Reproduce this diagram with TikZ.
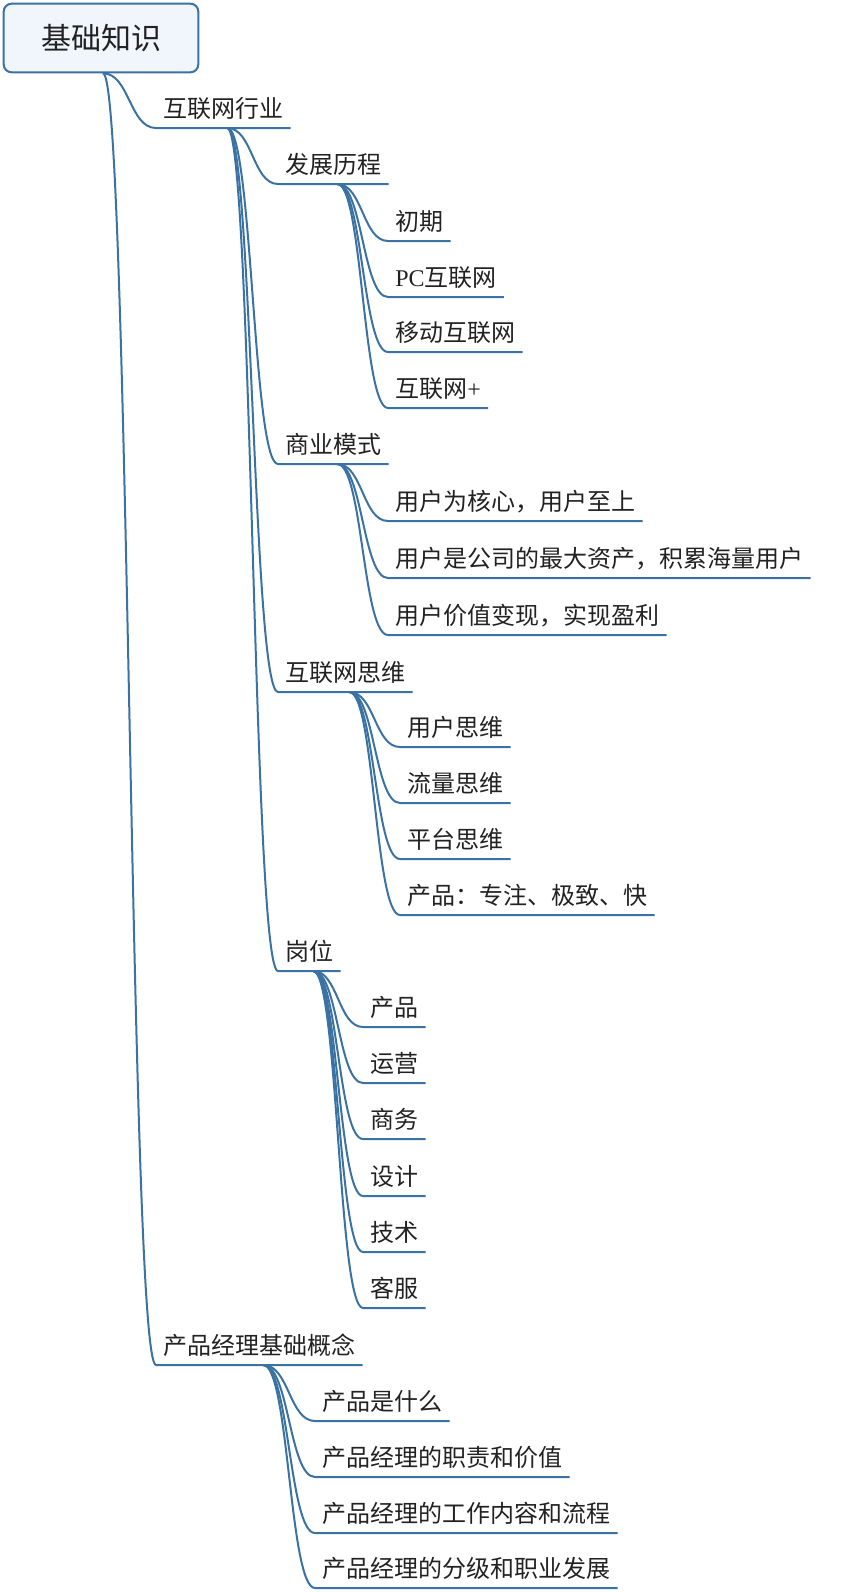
\documentclass[tikz,border=0pt]{standalone}
\usepackage{fontspec}
\setmainfont{Noto Sans CJK SC}
\newfontfamily\latin{Liberation Serif}
\usetikzlibrary{calc}
\definecolor{linec}{HTML}{3A72A4}
\definecolor{rootfill}{HTML}{F1F6FD}
\definecolor{ink}{HTML}{222222}

\begin{document}
\begin{tikzpicture}[x=0.75pt,y=-0.75pt,
  topic/.style={anchor=south west,inner xsep=5.25pt,inner ysep=8pt,text depth=0pt,text=ink,font=\fontsize{18}{20}\selectfont},
  branch/.style={draw=linec,line width=1.5pt,to path={let \p1=(\tikztostart),\p2=(\tikztotarget) in .. controls ({(\x1+\x2)/2},\y1) and ({(\x1+\x2)/2},\y2) .. (\tikztotarget)}}]
\useasboundingbox (0,0) rectangle (850,1592);
\node[draw=linec,line width=1.5pt,fill=rootfill,rounded corners=6pt,minimum width=146pt,minimum height=51.5pt,text=ink,font=\fontsize{22.5}{24}\selectfont] (root) at (101,38) {基础知识};

\node[topic] (hlw) at (156,128) {互联网行业};
\node[topic] (cpjl) at (156,1365) {产品经理基础概念};

\node[topic] (fzlc) at (278,184) {发展历程};
\node[topic] (syms) at (278,464) {商业模式};
\node[topic] (hlwsw) at (278,692) {互联网思维};
\node[topic] (gw) at (278,971) {岗位};

\node[topic] (cq) at (388,241) {初期};
\node[topic] (pc) at (388,297) {{\latin PC}互联网};
\node[topic] (yd) at (388,352) {移动互联网};
\node[topic] (jia) at (388,408) {互联网{\latin +}};

\node[topic] (hx) at (388,521) {用户为核心，用户至上};
\node[topic] (zc) at (388,578) {用户是公司的最大资产，积累海量用户};
\node[topic] (bx) at (388,635) {用户价值变现，实现盈利};

\node[topic] (yhsw) at (400,747) {用户思维};
\node[topic] (llsw) at (400,803) {流量思维};
\node[topic] (ptsw) at (400,859) {平台思维};
\node[topic] (cpsw) at (400,915) {产品：专注、极致、快};

\node[topic] (cp) at (363,1027) {产品};
\node[topic] (yy) at (363,1083) {运营};
\node[topic] (sw) at (363,1139) {商务};
\node[topic] (sj) at (363,1196) {设计};
\node[topic] (js) at (363,1252) {技术};
\node[topic] (kf) at (363,1308) {客服};

\node[topic] (sm) at (315,1421) {产品是什么};
\node[topic] (zz) at (315,1477) {产品经理的职责和价值};
\node[topic] (gz) at (315,1533) {产品经理的工作内容和流程};
\node[topic] (fj) at (315,1588) {产品经理的分级和职业发展};

\draw[branch] ([xshift=1.5pt]root.south) to (hlw.south west) -- (hlw.south east);
\draw[branch] ([xshift=1.5pt]root.south) to (cpjl.south west) -- (cpjl.south east);

\draw[branch] ([xshift=3pt]hlw.south) to (fzlc.south west) -- (fzlc.south east);
\draw[branch] ([xshift=3pt]hlw.south) to (syms.south west) -- (syms.south east);
\draw[branch] ([xshift=3pt]hlw.south) to (hlwsw.south west) -- (hlwsw.south east);
\draw[branch] ([xshift=3pt]hlw.south) to (gw.south west) -- (gw.south east);

\draw[branch] ([xshift=3pt]fzlc.south) to (cq.south west) -- (cq.south east);
\draw[branch] ([xshift=3pt]fzlc.south) to (pc.south west) -- (pc.south east);
\draw[branch] ([xshift=3pt]fzlc.south) to (yd.south west) -- (yd.south east);
\draw[branch] ([xshift=3pt]fzlc.south) to (jia.south west) -- (jia.south east);

\draw[branch] ([xshift=3pt]syms.south) to (hx.south west) -- (hx.south east);
\draw[branch] ([xshift=3pt]syms.south) to (zc.south west) -- (zc.south east);
\draw[branch] ([xshift=3pt]syms.south) to (bx.south west) -- (bx.south east);

\draw[branch] ([xshift=3pt]hlwsw.south) to (yhsw.south west) -- (yhsw.south east);
\draw[branch] ([xshift=3pt]hlwsw.south) to (llsw.south west) -- (llsw.south east);
\draw[branch] ([xshift=3pt]hlwsw.south) to (ptsw.south west) -- (ptsw.south east);
\draw[branch] ([xshift=3pt]hlwsw.south) to (cpsw.south west) -- (cpsw.south east);

\draw[branch] ([xshift=3pt]gw.south) to (cp.south west) -- (cp.south east);
\draw[branch] ([xshift=3pt]gw.south) to (yy.south west) -- (yy.south east);
\draw[branch] ([xshift=3pt]gw.south) to (sw.south west) -- (sw.south east);
\draw[branch] ([xshift=3pt]gw.south) to (sj.south west) -- (sj.south east);
\draw[branch] ([xshift=3pt]gw.south) to (js.south west) -- (js.south east);
\draw[branch] ([xshift=3pt]gw.south) to (kf.south west) -- (kf.south east);

\draw[branch] ([xshift=3pt]cpjl.south) to (sm.south west) -- (sm.south east);
\draw[branch] ([xshift=3pt]cpjl.south) to (zz.south west) -- (zz.south east);
\draw[branch] ([xshift=3pt]cpjl.south) to (gz.south west) -- (gz.south east);
\draw[branch] ([xshift=3pt]cpjl.south) to (fj.south west) -- (fj.south east);
\end{tikzpicture}
\end{document}
